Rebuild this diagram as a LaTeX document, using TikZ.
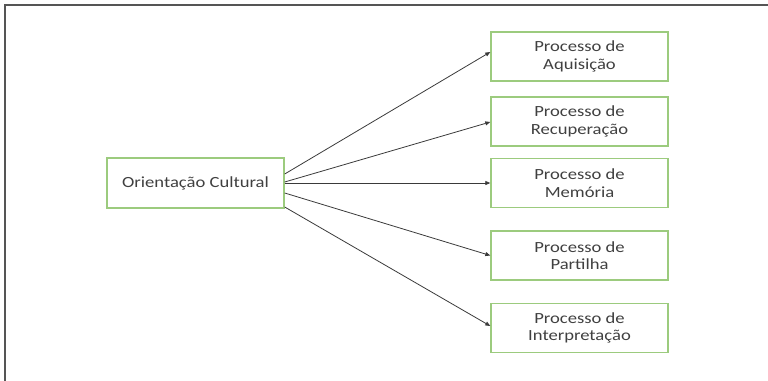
\documentclass[tikz,border=0pt]{standalone}
\usepackage{fontspec}
\setmainfont{Carlito}[FakeStretch=1.2]
\usetikzlibrary{arrows.meta}
\definecolor{boxgreen}{HTML}{9CCB7E}
\definecolor{txtgray}{HTML}{404040}
\definecolor{arrgray}{HTML}{3A3A3A}
\definecolor{framegray}{HTML}{555555}
\begin{document}
\begin{tikzpicture}[x=1pt,y=-1pt,
  box/.style={draw=boxgreen,line width=1.4pt,fill=white,minimum width=177pt,minimum height=49pt,
    inner sep=0pt,align=center,text=txtgray,font=\fontsize{15.5}{17.5}\selectfont},
  arr/.style={draw=arrgray,line width=0.8pt,-{Triangle[length=5pt,width=4pt]}}]
\useasboundingbox (0,0) rectangle (768,380);
\draw[framegray,line width=2pt] (5,385) -- (5,5) -- (770,5);
\node[box,minimum height=50pt] (oc) at (195.5,183) {Orientação Cultural};
\node[box] (p1) at (579.5,56.5) {Processo de\\Aquisição};
\node[box] (p2) at (579.5,121.5) {Processo de\\Recuperação};
\node[box] (p3) at (579.5,183) {Processo de\\Memória};
\node[box] (p4) at (579.5,255.5) {Processo de\\Partilha};
\node[box] (p5) at (579.5,328) {Processo de\\Interpretação};
\draw[arr] ([yshift=9pt]oc.east) -- ([yshift=4.5pt]p1.west);
\draw[arr] ([yshift=1pt]oc.east) -- ([yshift=-0.5pt]p2.west);
\draw[arr] (oc.east) -- (p3.west);
\draw[arr] ([yshift=-10pt]oc.east) -- (p4.west);
\draw[arr] ([yshift=-24pt]oc.east) -- ([yshift=2pt]p5.west);
\end{tikzpicture}
\end{document}
